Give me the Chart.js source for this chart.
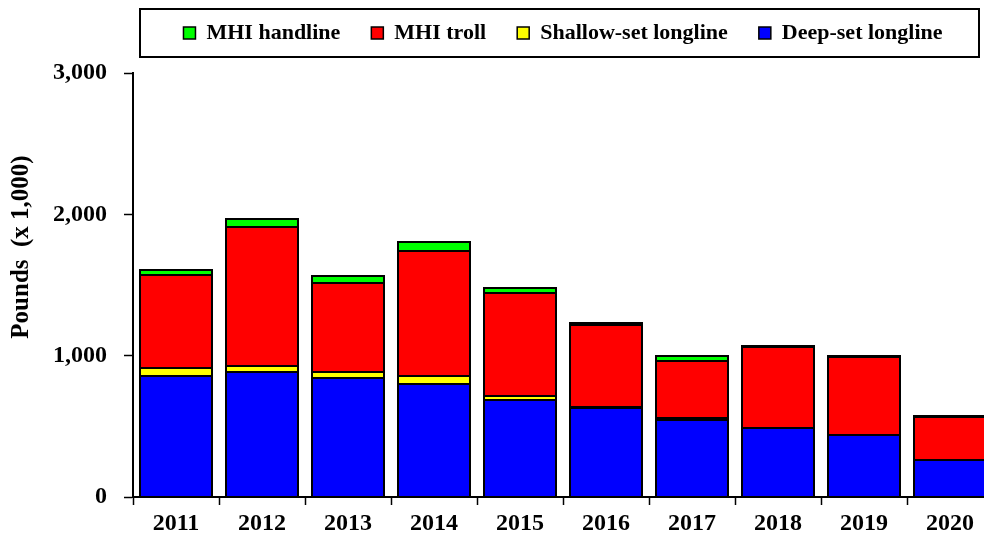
<!DOCTYPE html>
<html><head><meta charset="utf-8">
<script src="https://cdn.jsdelivr.net/npm/chart.js@4.4.1/dist/chart.umd.min.js"></script>
<style>
html,body{margin:0;padding:0;background:#fff;overflow:hidden;width:984px;height:538px;}
#wrap{width:1000px;height:538px;}
</style></head><body>
<div id="wrap"><canvas id="c" width="1000" height="538"></canvas></div>
<script>
// ---- data (pounds x 1,000) ----
const years = ['2011','2012','2013','2014','2015','2016','2017','2018','2019','2020'];
const deepSetLongline    = [853, 884, 841, 799, 683, 631, 546, 489, 437, 264];
const shallowSetLongline = [ 59,  42,  40,  56,  31,   8,  14,   2,   2,   1];
const mhiTroll           = [661, 985, 636, 888, 730, 581, 405, 571, 552, 303];
const mhiHandline        = [ 31,  59,  44,  59,  35,   8,  33,   8,   8,   8];
const yTickValues = [0, 1000, 2000, 3000];
const yTitle = 'Pounds  (x 1,000)';

const FONT = '"Liberation Serif", "Times New Roman", serif';
const COLORS = { deep: '#0000FF', shallow: '#FFFF00', troll: '#FF0000', hand: '#00FF00' };

// crisp black outline around every bar segment, taken from the library's bar elements
const barOutline = {
  id: 'barOutline',
  afterDatasetsDraw(chart) {
    const ctx = chart.ctx;
    ctx.save();
    ctx.strokeStyle = '#000';
    ctx.lineWidth = 2;
    chart.data.datasets.forEach((ds, i) => {
      const meta = chart.getDatasetMeta(i);
      if (meta.hidden) return;
      meta.data.forEach(el => {
        const p = el.getProps(['x', 'y', 'base', 'width'], true);
        const l = Math.round(p.x - p.width / 2), r = Math.round(p.x + p.width / 2);
        const t = Math.round(Math.min(p.y, p.base)), b = Math.round(Math.max(p.y, p.base));
        ctx.strokeRect(l, t, r - l, b - t);
      });
    });
    ctx.restore();
  }
};

const legendFrame = {
  id: 'legendFrame',
  afterDraw(chart) {
    const lg = chart.legend;
    if (!lg || !lg.legendHitBoxes || !lg.legendHitBoxes.length) return;
    const hb = lg.legendHitBoxes;
    const first = hb[0], last = hb[hb.length - 1];
    const cy = Math.round(first.top + first.height / 2);
    const x0 = Math.round(first.left - 43), x1 = Math.round(last.left + last.width + 36);
    const ctx = chart.ctx;
    ctx.save();
    ctx.strokeStyle = '#000';
    ctx.lineWidth = 2;
    ctx.strokeRect(x0, cy - 24, x1 - x0, 48);
    ctx.restore();
  }
};

const yTitlePlugin = {
  id: 'yTitleDraw',
  afterDraw(chart) {
    const a = chart.chartArea;
    const ctx = chart.ctx;
    ctx.save();
    ctx.translate(22, (a.top + a.bottom) / 2 - 38);
    ctx.rotate(-Math.PI / 2);
    ctx.font = 'bold 25px ' + FONT;
    ctx.textAlign = 'center';
    ctx.textBaseline = 'middle';
    ctx.fillStyle = '#000';
    ctx.fillText(yTitle, 0, 0);
    ctx.restore();
  }
};

const barCommon = {
  borderWidth: 0,
  inflateAmount: 0,
  categoryPercentage: 1,
  barPercentage: 0.842
};

new Chart(document.getElementById('c'), {
  type: 'bar',
  data: {
    labels: years,
    datasets: [
      Object.assign({ label: 'Deep-set longline', data: deepSetLongline, backgroundColor: COLORS.deep }, barCommon),
      Object.assign({ label: 'Shallow-set longline', data: shallowSetLongline, backgroundColor: COLORS.shallow }, barCommon),
      Object.assign({ label: 'MHI troll', data: mhiTroll, backgroundColor: COLORS.troll }, barCommon),
      Object.assign({ label: 'MHI handline', data: mhiHandline, backgroundColor: COLORS.hand }, barCommon)
    ]
  },
  options: {
    responsive: false,
    animation: false,
    devicePixelRatio: 1,
    layout: { padding: { top: -9, left: 0, right: 7, bottom: 0 } },
    plugins: {
      tooltip: { enabled: false },
      title: { display: true, text: ' ', weight: 500, font: { size: 1, lineHeight: 1 }, padding: { top: 9, bottom: 9 } },
      legend: {
        display: true,
        position: 'top',
        fullSize: false,
        reverse: true,
        align: 'center',
        labels: {
          boxWidth: 12,
          boxHeight: 12,
          padding: 31,
          color: '#000',
          font: { family: FONT, size: 22, weight: 'bold' },
          generateLabels(chart) {
            const items = Chart.defaults.plugins.legend.labels.generateLabels(chart);
            items.forEach(it => { it.lineWidth = 1.5; it.strokeStyle = '#000'; });
            return items;
          }
        }
      }
    },
    scales: {
      x: {
        stacked: true,
        offset: true,
        grid: { offset: true, drawOnChartArea: false, drawTicks: true, tickLength: 8, tickColor: '#000', tickWidth: 1.5 },
        border: { display: true, color: '#000', width: 2 },
        ticks: { color: '#000', font: { family: FONT, size: 24, weight: 'bold' }, padding: 4, maxRotation: 0, autoSkip: false },
        afterFit(s) { s.height = 41; }
      },
      y: {
        stacked: true,
        min: yTickValues[0],
        max: yTickValues[yTickValues.length - 1],
        afterBuildTicks(s) { s.ticks = yTickValues.map(v => ({ value: v })); },
        grid: { drawOnChartArea: false, drawTicks: true, tickLength: 9, tickColor: '#000', tickWidth: 1.5 },
        border: { display: true, color: '#000', width: 2 },
        ticks: {
          color: '#000',
          font: { family: FONT, size: 24, weight: 'bold' },
          padding: 17,
          callback: v => Number(v).toLocaleString('en-US')
        },
        afterFit(s) { s.width = 133; }
      }
    }
  },
  plugins: [barOutline, legendFrame, yTitlePlugin]
});
</script>
</body></html>
